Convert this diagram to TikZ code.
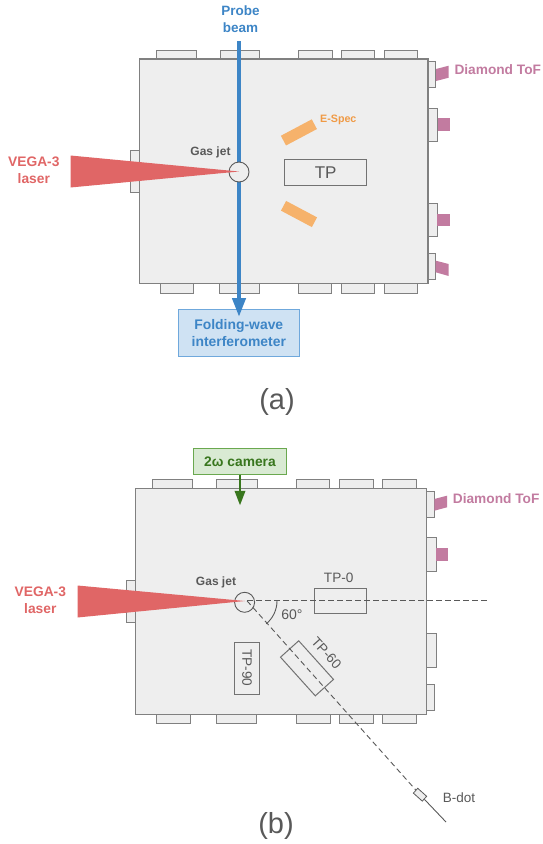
\documentclass[tikz,border=0pt]{standalone}
\usepackage{fontspec}
\setmainfont{Liberation Sans}
\usepackage{xcolor}
\usetikzlibrary{arrows.meta}
\definecolor{ChamberFill}{HTML}{EEEEEE}
\definecolor{ChamberLine}{HTML}{808080}
\definecolor{TextGrey}{HTML}{595959}
\definecolor{LaserRed}{HTML}{E06666}
\definecolor{ProbeBlue}{HTML}{3D85C6}
\definecolor{ProbeFill}{HTML}{CFE2F3}
\definecolor{ProbeLine}{HTML}{6FA8DC}
\definecolor{SpecOrange}{HTML}{F6B26B}
\definecolor{SpecText}{HTML}{F09A45}
\definecolor{TofPink}{HTML}{C27BA0}
\definecolor{CamGreen}{HTML}{38761D}
\definecolor{CamFill}{HTML}{D9EAD3}
\definecolor{CamLine}{HTML}{6AA84F}
\tikzset{
  chamber/.style={draw=ChamberLine,fill=ChamberFill,line width=1.2pt},
  port/.style={draw=ChamberLine,fill=ChamberFill,line width=1pt},
  tpbox/.style={draw=TextGrey!85,line width=1pt,inner sep=0pt,text=TextGrey},
  diag/.style={draw=TextGrey,line width=0.9pt,dash pattern=on 5.5pt off 3.5pt},
  jetcircle/.style={circle,draw=TextGrey,fill=ChamberFill,line width=0.9pt,minimum size=20pt,inner sep=0pt},
  redlabel/.style={text=LaserRed,align=center,font=\fontsize{13.8}{17}\selectfont\bfseries},
  bluelabel/.style={text=ProbeBlue,align=center,font=\fontsize{13.5}{17}\selectfont\bfseries},
  pinklabel/.style={text=TofPink,anchor=west,inner sep=0pt,font=\fontsize{13.7}{16}\selectfont\bfseries},
  jetlabel/.style={text=TextGrey,font=\fontsize{12}{14}\selectfont\bfseries},
  greylabel/.style={text=TextGrey,font=\fontsize{13.6}{15}\selectfont},
  caption/.style={text=TextGrey,font=\fontsize{29}{32}\selectfont},
  espec/.style={fill=SpecOrange,minimum width=35pt,minimum height=11pt,inner sep=0pt}
}
\begin{document}
\begin{tikzpicture}[x=1pt,y=-1pt]
\useasboundingbox (0,0) rectangle (542,844);

% panel a
\foreach \xa/\xb in {156/196,220/259.5,298.3/332,341/374.7,384/417} {
  \draw[port] (\xa,50) rectangle (\xb,59);
}
\foreach \xa/\xb in {160.3/193.7,219.7/259.3,298.3/331.7,341.3/374.7,384/417.3} {
  \draw[port] (\xa,283.7) rectangle (\xb,293);
}
\foreach \ya/\yb/\xb in {61.7/87.7/435.5,108/141/437.5,203.3/236.7/437,253.3/279.3/435.5} {
  \draw[port] (428,\ya) rectangle (\xb,\yb);
}
\draw[port] (130.3,150.7) rectangle (139.3,192);
\draw[chamber] (139.3,59) rectangle (428,283.7);

\node[espec,rotate=28] (especup) at (298.9,132.4) {};
\node[espec,rotate=-28] (especdown) at (299,214) {};
\node[text=SpecText,font=\fontsize{10.7}{12}\selectfont\bfseries] (especlabel) at (338.3,120) {E-Spec};
\node[tpbox,minimum width=82pt,minimum height=25.3pt,font=\fontsize{17}{19}\selectfont] (tp) at (325.7,172.6) {TP};

\node[draw=ProbeLine,fill=ProbeFill,line width=1pt,minimum width=121pt,minimum height=46.7pt,inner sep=0pt,
  bluelabel,font=\fontsize{13.9}{16.7}\selectfont\bfseries] (folding) at (238.8,332.7) {Folding-wave\\interferometer};
\coordinate (beamtop) at (239,41);
\coordinate (beamend) at (239,317);
\draw[ProbeBlue,line width=4.2pt,-{Triangle[width=13pt,length=19pt]}] (beamtop) -- (beamend);

\node[jetcircle] (jeta) at (239,172) {};
\fill[LaserRed] (70.5,155.5) -- (70.5,187.5) -- (239,171.5) -- cycle;

\fill[TofPink] (436,69) -- (448.7,65.7) -- (448.7,77.7) -- (436,81) -- cycle;
\fill[TofPink] (437.7,118.3) rectangle (449.7,131);
\fill[TofPink] (437,214) rectangle (449.7,226);
\fill[TofPink] (435.7,260.7) -- (448.7,264) -- (448.7,276) -- (435.7,272.3) -- cycle;

\node[redlabel] (vegaa) at (33.8,170.5) {VEGA-3\\laser};
\node[bluelabel] (probe) at (240.5,19.5) {Probe\\beam};
\node[jetlabel] (gasa) at (210.5,152) {Gas jet};
\node[pinklabel] (tofa) at (454.3,70) {Diamond ToF};
\node[caption] (capa) at (277,402) {(a)};

% panel b
\foreach \xa/\xb in {152.7/192.3,216.7/257,296.3/329.7,339.3/373,382.3/416} {
  \draw[port] (\xa,479.7) rectangle (\xb,488.7);
}
\foreach \xa/\xb in {156.7/190.7,216.7/256.7,296.3/330,339.3/373,382/416} {
  \draw[port] (\xa,714.3) rectangle (\xb,723.7);
}
\foreach \ya/\yb/\xb in {491.3/517.3/434,537.7/571/436,633.7/667/436,684.3/710/434} {
  \draw[port] (426.7,\ya) rectangle (\xb,\yb);
}
\draw[port] (126.7,580.7) rectangle (135.7,622.7);
\draw[chamber] (135.7,488.7) rectangle (426.7,714.3);

\node[draw=CamLine,fill=CamFill,line width=1pt,minimum width=93.4pt,minimum height=25.3pt,inner sep=0pt,
  text=CamGreen,font=\fontsize{13.8}{15}\selectfont\bfseries] (camera) at (240,461.4) {2ω camera};
\coordinate (camtip) at (240,505.3);
\draw[CamGreen,line width=2pt,-{Triangle[width=10.5pt,length=14.5pt]}] (camera) -- (camtip);

\node[jetcircle] (jetb) at (244.6,602.3) {};
\fill[LaserRed] (77.5,585.5) -- (77.5,617.5) -- (245,601) -- cycle;

\node[tpbox,minimum width=52.3pt,minimum height=25.3pt] (tpzero) at (340.8,600.7) {};
\node[tpbox,minimum width=52pt,minimum height=25.4pt,rotate=-90,greylabel] (tpninety) at (247,668) {TP-90};
\node[tpbox,minimum width=52pt,minimum height=24.5pt,rotate=-48] (tpsixty) at (307,668.3) {};
\node[greylabel] (tpzerolabel) at (338.7,578.3) {TP-0};
\node[greylabel,rotate=-48] (tpsixtylabel) at (326.5,653.3) {TP-60};
\node[greylabel,font=\fontsize{14}{16}\selectfont] (angle) at (292,615) {60°};

\coordinate (origin) at (247,600.8);
\coordinate (farend) at (487.7,600.8);
\node[draw=TextGrey,fill=ChamberFill,line width=0.8pt,minimum width=12pt,minimum height=6.5pt,inner sep=0pt,rotate=-42] (bdot) at (420,794.7) {};
\coordinate (bdotend) at (446,822);
\draw[diag] (origin) -- (farend);
\draw[diag] (origin) -- (bdot);
\draw[TextGrey,line width=0.9pt] (bdot) -- (bdotend);
\draw[TextGrey,line width=0.9pt] (277,600.8) arc (0:50:30);

\fill[TofPink] (434.3,499) -- (447,495.7) -- (447,507.3) -- (434.3,510.7) -- cycle;
\fill[TofPink] (436.3,548.3) rectangle (447.7,561);

\node[redlabel] (vegab) at (40.3,600.5) {VEGA-3\\laser};
\node[jetlabel] (gasb) at (216,582) {Gas jet};
\node[pinklabel] (tofb) at (452.7,499) {Diamond ToF};
\node[greylabel,anchor=west,inner sep=0pt,font=\fontsize{13.5}{15}\selectfont] (bdotlabel) at (442.7,798) {B-dot};
\node[caption] (capb) at (276,826) {(b)};
\end{tikzpicture}
\end{document}
